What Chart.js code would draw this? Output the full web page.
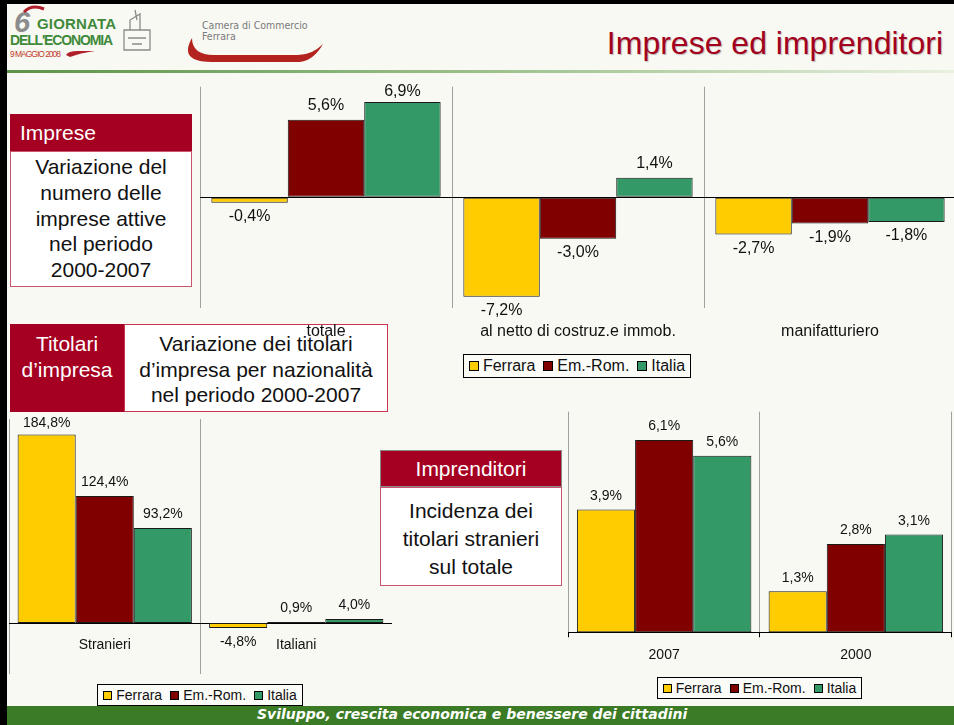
<!DOCTYPE html>
<html lang="it">
<head>
<meta charset="utf-8">
<title>Imprese ed imprenditori</title>
<script src="https://cdn.jsdelivr.net/npm/chart.js@4.4.1/dist/chart.umd.min.js"></script>
<style>
  html, body { margin: 0; padding: 0; }
  body {
    width: 954px; height: 725px; overflow: hidden; position: relative;
    background: #f9f9f4;
    font-family: "Liberation Sans", Arial, sans-serif;
    color: #111;
  }
  .abs { position: absolute; box-sizing: border-box; }
  .frame { left: 0; top: 0; width: 954px; height: 725px; border-left: 7px solid #000; border-top: 4px solid #000; z-index: 50; pointer-events: none; }
  .title { right: 11px; top: 25px; font-size: 32px; color: #a3001e; text-shadow: 1px 1px 1px rgba(0,0,0,0.25); white-space: nowrap; }
  .hline { left: 7px; top: 70px; width: 947px; height: 3px; background: linear-gradient(to right, #5b9448, #a9c99a 60%, #e9f0e0); }
  .footer { left: 7px; top: 706px; width: 947px; height: 19px; background: #3b7b25; z-index: 40; }
  .footer span { position: absolute; left: 250px; top: 0px; font-family: "DejaVu Sans", Verdana, sans-serif; font-weight: bold; font-style: italic; font-size: 14px; color: #fff; white-space: nowrap; }
  .redhead { background: #a50021; color: #fff; font-size: 21px; }
  .note { background: #fff; border: 1px solid #c9546d; font-size: 21px; text-align: center; }
  .chartbox { position: absolute; z-index: 10; }
  .legend { position: absolute; z-index: 20; border: 1px solid #000; background: #fbfbf8; display: flex; align-items: center; justify-content: center; box-sizing: border-box; white-space: nowrap; }
  .legend .item { display: flex; align-items: center; margin: 0 4px; }
  .legend .sw { border: 1px solid #000; box-sizing: border-box; margin-right: 4px; }
</style>
</head>
<body>
<div class="abs frame"></div>

<!-- header -->
<svg class="abs" style="left:0;top:0" width="340" height="70">
  <text x="14" y="32" font-family="Liberation Sans, Arial" font-weight="bold" font-style="italic" font-size="29" fill="#8c8c8c">6</text>
  <path d="M24 12 Q32 4 44 9" stroke="#b0202a" stroke-width="3" fill="none"/>
  <text x="37" y="29" font-family="Liberation Sans, Arial" font-weight="bold" font-size="15" fill="#3f8a3a" textLength="79">GIORNATA</text>
  <text x="10" y="45" font-family="Liberation Sans, Arial" font-weight="bold" font-size="14" fill="#3f8a3a" textLength="103">DELL'ECONOMIA</text>
  <text x="10" y="57" font-family="Liberation Sans, Arial" font-size="8.5" fill="#c0392b" textLength="51">9 MAGGIO 2008</text>
  <path d="M66 55 Q68 51 78 51 L95 51 Q80 53 70 57 Z" fill="#b0202a"/>
  <g stroke="#8a8a8a" stroke-width="1.3" fill="none">
    <path d="M124 30 L150 30 L150 50 L124 50 Z"/>
    <path d="M130 30 L130 20 L140 14 L140 30"/>
    <path d="M128 38 L146 38 M132 44 L142 44 M135 10 L137 20"/>
  </g>
  <text x="202" y="29" font-family="DejaVu Sans Condensed, DejaVu Sans" font-size="10.5" fill="#7a7a7a">Camera di Commercio</text>
  <text x="202" y="40" font-family="DejaVu Sans Condensed, DejaVu Sans" font-size="10.5" fill="#7a7a7a">Ferrara</text>
  <path d="M192 38 Q178 62 212 62 L300 62 Q314 60 323 44 Q312 55 298 55 L214 55 Q192 55 192 38 Z" fill="#b3231f"/>
</svg>
<div class="abs title">Imprese ed imprenditori</div>
<div class="abs hline"></div>

<!-- text boxes -->
<div class="abs redhead" style="left:10px;top:114px;width:182px;height:37px;line-height:37px;padding-left:10px">Imprese</div>
<div class="abs note" style="left:10px;top:151px;width:182px;height:136px;line-height:25.8px;padding-top:2px">Variazione del<br>numero delle<br>imprese attive<br>nel periodo<br>2000-2007</div>

<div class="abs redhead" style="left:10px;top:324px;width:114px;height:88px;line-height:26px;padding-top:7px;text-align:center">Titolari<br>d’impresa</div>
<div class="abs note" style="left:124px;top:324px;width:264px;height:88px;line-height:25.5px;padding-top:6px;border-color:#c9344f">Variazione dei titolari<br>d’impresa per nazionalità<br>nel periodo 2000-2007</div>

<div class="abs redhead" style="left:380px;top:450px;width:182px;height:37px;line-height:35px;text-align:center;border:1px solid #8a8a8a">Imprenditori</div>
<div class="abs note" style="left:380px;top:487px;width:182px;height:99px;line-height:28px;padding-top:9px">Incidenza dei<br>titolari stranieri<br>sul totale</div>

<!-- charts -->
<div class="chartbox" style="left:200px;top:80px;width:756px;height:270px"><canvas id="chartImprese" width="756" height="270"></canvas></div>
<div class="legend" id="legendImprese" style="left:463px;top:354px;width:228px;height:24px;font-size:16px"></div>

<div class="chartbox" style="left:9px;top:412px;width:383px;height:262px"><canvas id="chartTitolari" width="383" height="262"></canvas></div>
<div class="legend" id="legendTitolari" style="left:97px;top:684px;width:206px;height:22px;font-size:14px"></div>

<div class="chartbox" style="left:560px;top:405px;width:394px;height:270px"><canvas id="chartIncidenza" width="394" height="270"></canvas></div>
<div class="legend" id="legendIncidenza" style="left:657px;top:677px;width:205px;height:22px;font-size:14px"></div>

<div class="abs footer"><span>Sviluppo, crescita economica e benessere dei cittadini</span></div>

<script>
// series shared by the three charts
const seriesNames = ['Ferrara', 'Em.-Rom.', 'Italia'];
const seriesColors = ['#ffcc00', '#800000', '#339966'];

// Imprese: variazione numero imprese attive 2000-2007 (%)
const impreseCats = ['totale', 'al netto di costruz.e immob.', 'manifatturiero'];
const impreseFerrara = [-0.4, -7.2, -2.7];
const impreseEmRom = [5.6, -3.0, -1.9];
const impreseItalia = [6.9, 1.4, -1.8];

// Titolari d'impresa per nazionalita 2000-2007 (%)
const titolariCats = ['Stranieri', 'Italiani'];
const titolariFerrara = [184.8, -4.8];
const titolariEmRom = [124.4, 0.9];
const titolariItalia = [93.2, 4.0];

// Incidenza titolari stranieri sul totale (%)
const incidenzaCats = ['2007', '2000'];
const incidenzaFerrara = [3.9, 1.3];
const incidenzaEmRom = [6.1, 2.8];
const incidenzaItalia = [5.6, 3.1];

const FONT = '"Liberation Sans", Arial, sans-serif';

function fmtPct(v) {
  return v.toFixed(1).replace('.', ',') + '%';
}

// value labels above positive bars, below negative ones
const valueLabels = {
  id: 'valueLabels',
  afterDatasetsDraw(chart, args, opts) {
    const { ctx, chartArea } = chart;
    ctx.save();
    ctx.font = opts.size + 'px ' + FONT;
    ctx.fillStyle = '#111';
    ctx.textAlign = 'center';
    ctx.textBaseline = 'middle';
    chart.data.datasets.forEach((ds, i) => {
      chart.getDatasetMeta(i).data.forEach((bar, j) => {
        const v = ds.data[j];
        let y = v >= 0 ? bar.y - opts.offset : bar.y + opts.offset;
        y = Math.max(y, chartArea.top + 4.5);
        ctx.fillText(fmtPct(v), bar.x, y);
      });
    });
    ctx.restore();
  }
};

function makeDatasets(values) {
  return values.map((data, i) => ({
    label: seriesNames[i],
    data: data,
    backgroundColor: seriesColors[i],
    borderColor: '#1a1a1a',
    borderWidth: 1,
    borderSkipped: false,
    categoryPercentage: 0.91,
    barPercentage: 1
  }));
}

function buildLegend(id, size) {
  const box = document.getElementById(id);
  seriesNames.forEach((name, i) => {
    const item = document.createElement('div');
    item.className = 'item';
    item.innerHTML = `<span class="sw" style="width:${size}px;height:${size}px;background:${seriesColors[i]}"></span><span>${name}</span>`;
    box.appendChild(item);
  });
}

function baseOptions(fontSize) {
  return {
    responsive: false,
    animation: false,
    devicePixelRatio: 1,
    plugins: {
      legend: { display: false },
      tooltip: { enabled: false },
      valueLabels: { size: fontSize, offset: 14 }
    }
  };
}

// chart 1 - Imprese
const opt1 = baseOptions(16);
opt1.layout = { padding: { top: 6.7, left: 0, right: 0, bottom: 0 } };
opt1.scales = {
  x: {
    grid: { offset: true, color: '#a0a0a0', drawTicks: false },
    border: { display: false },
    ticks: { color: '#111', font: { size: 16, family: FONT }, padding: 14, maxRotation: 0, autoSkip: false },
    afterFit: (s) => { s.height = 42.3; }
  },
  y: {
    min: -8, max: 8,
    ticks: { display: false, stepSize: 8 },
    border: { display: false },
    grid: { drawTicks: false, color: (c) => c.tick.value === 0 ? '#000' : 'rgba(0,0,0,0)' },
    afterFit: (s) => { s.width = 0; }
  }
};
new Chart(document.getElementById('chartImprese'), {
  type: 'bar',
  data: { labels: impreseCats, datasets: makeDatasets([impreseFerrara, impreseEmRom, impreseItalia]) },
  options: opt1,
  plugins: [valueLabels]
});

// chart 2 - Titolari
const opt2 = baseOptions(14);
opt2.layout = { padding: { top: 7, left: 0, right: 0, bottom: 0 } };
opt2.scales = {
  x: {
    position: { y: 0 },
    grid: { offset: true, color: '#a0a0a0', drawTicks: false },
    border: { display: true, color: '#000', width: 1 },
    ticks: { color: '#111', font: { size: 14, family: FONT }, padding: 14, maxRotation: 0, autoSkip: false }
  },
  y: {
    min: -50, max: 200,
    ticks: { display: false, stepSize: 50 },
    border: { display: false },
    grid: { display: false },
    afterFit: (s) => { s.width = 0; }
  }
};
new Chart(document.getElementById('chartTitolari'), {
  type: 'bar',
  data: { labels: titolariCats, datasets: makeDatasets([titolariFerrara, titolariEmRom, titolariItalia]) },
  options: opt2,
  plugins: [valueLabels]
});

// chart 3 - Incidenza
const opt3 = baseOptions(14);
opt3.plugins.valueLabels.offset = 13.5;
opt3.layout = { padding: { top: 6.7, left: 8.3, right: 2.3, bottom: 0 } };
opt3.scales = {
  x: {
    grid: { offset: true, color: '#a0a0a0', drawTicks: true, tickLength: 5, tickColor: '#000' },
    border: { display: true, color: '#000', width: 1 },
    ticks: { color: '#111', font: { size: 14, family: FONT }, padding: 9, maxRotation: 0, autoSkip: false },
    afterFit: (s) => { s.height = 42.7; }
  },
  y: {
    min: 0, max: 7,
    ticks: { display: false, stepSize: 1 },
    border: { display: false },
    grid: { display: false },
    afterFit: (s) => { s.width = 0; }
  }
};
new Chart(document.getElementById('chartIncidenza'), {
  type: 'bar',
  data: { labels: incidenzaCats, datasets: makeDatasets([incidenzaFerrara, incidenzaEmRom, incidenzaItalia]) },
  options: opt3,
  plugins: [valueLabels]
});

buildLegend('legendImprese', 10);
buildLegend('legendTitolari', 9);
buildLegend('legendIncidenza', 9);
</script>
</body>
</html>
